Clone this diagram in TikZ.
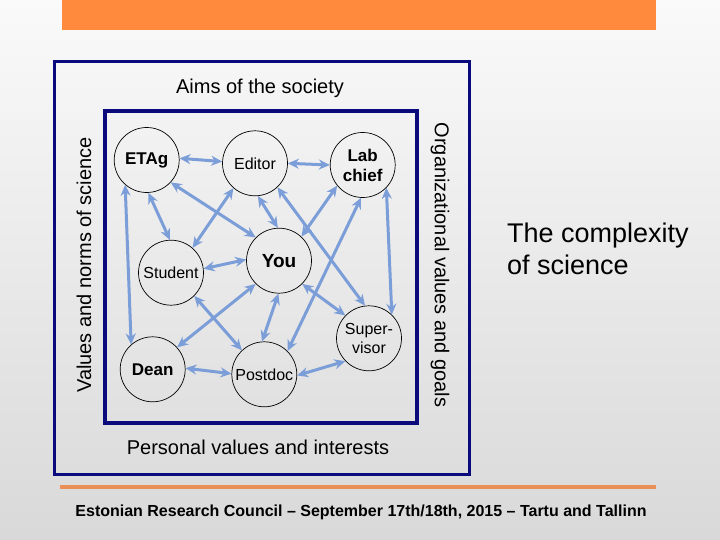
\documentclass[tikz,border=0pt]{standalone}
\usepackage{fontspec}
\setmainfont{Liberation Sans}
\usetikzlibrary{arrows.meta}
\definecolor{navy}{HTML}{0A0A7C}
\definecolor{linkblue}{HTML}{7B9DD8}
\definecolor{barorange}{HTML}{FF8A3D}
\definecolor{lineorange}{HTML}{EA8F58}
\tikzset{
  actor/.style={circle,draw,line width=0.7pt,minimum size=65pt,inner sep=0pt,align=center,
    font=\fontsize{16}{19}\selectfont},
  boss/.style={actor,font=\fontsize{17}{20}\selectfont\bfseries},
  link/.style={linkblue,line width=3pt,{Stealth[length=11pt,width=10pt]}-{Stealth[length=11pt,width=10pt]}},
  frame/.style={navy,line width=3pt},
  caption/.style={font=\fontsize{20}{22}\selectfont}
}
\begin{document}
\begin{tikzpicture}[x=1pt,y=-1pt]
  \shade[top color=black!2,bottom color=black!15] (0,0) rectangle (720,540);
  \useasboundingbox (0,0) rectangle (720,540);
  % title bar and footer rule
  \fill[barorange] (62,0) rectangle (656,30);
  \draw[lineorange,line width=4pt] (60,487) -- (656,487);
  \node[font=\fontsize{16}{18}\selectfont\bfseries] (footer) at (361,512)
    {Estonian Research Council -- September 17th/18th, 2015 -- Tartu and Tallinn};
  % frames
  \draw[frame] (54,61.5) rectangle (469,474);
  \draw[frame,line width=4pt] (105,111) rectangle (417,423);
  \node[caption] (aims) at (260,88) {Aims of the society};
  \node[caption] (personal) at (258,447) {Personal values and interests};
  \node[caption,rotate=90] (norms) at (84,265) {Values and norms of science};
  \node[caption,rotate=-90] (goals) at (440,265) {Organizational values and goals};
  \node[font=\fontsize{27}{32}\selectfont,align=left] (complexity) at (598,249)
    {The complexity\\of science};
  % actors
  \node[boss] (etag) at (146.7,160) {ETAg};
  \node[actor] (editor) at (255,163.3) {Editor};
  \node[boss] (lab) at (362.7,165) {Lab\\chief};
  \node[actor] (student) at (171,272.7) {Student};
  \node[boss,font=\fontsize{19}{22}\selectfont\bfseries] (you) at (279,260.7) {You};
  \node[actor] (super) at (369,338.3) {Super-\\visor};
  \node[boss] (dean) at (152.7,369.3) {Dean};
  \node[actor] (postdoc) at (264.3,374.3) {Postdoc};
  % relations
  \foreach \a/\b in
  { etag.3/editor.177, editor.0/lab.180,
    etag.-87/student.92, etag.-43/you.135, etag.229/dean.131,
    editor.229/student.49, editor.-85/you.92, editor.-47/super.97,
    lab.219/you.47, lab.-93/postdoc.45, lab.-44/super.46,
    student.7/you.178, student.-45/postdoc.133,
    you.225/dean.42, you.-91/postdoc.94, you.-45/super.136,
    dean.2/postdoc.179, postdoc.-2/super.224
  }
  \draw[link] (\a) -- (\b);
\end{tikzpicture}
\end{document}
